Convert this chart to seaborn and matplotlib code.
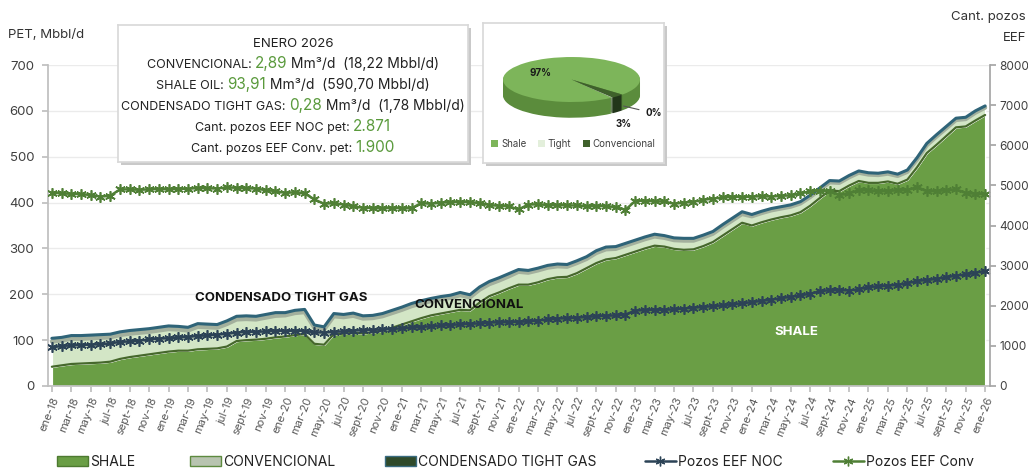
import matplotlib
matplotlib.use("Agg")
import matplotlib.pyplot as plt
import seaborn as sns
import pandas as pd
from matplotlib.patches import Patch
from matplotlib.lines import Line2D

W, H = 1028, 472

MESES = ["ene", "feb", "mar", "abr", "may", "jun", "jul", "ago", "sept", "oct", "nov", "dic"]
periodos = [f"{m}-{a}" for a in range(18, 27) for m in MESES][:97]

# produccion de petroleo, Mbbl/d
shale = [42, 45, 48, 49, 50, 51, 53, 59, 63, 66, 69, 72,
         75, 77, 77, 80, 81, 82, 86, 98, 100, 101, 103, 106,
         108, 111, 113, 92, 90, 113, 114, 116, 115, 117, 121, 127,
         134, 141, 148, 154, 158, 162, 166, 165, 182, 196, 204, 213,
         221, 221, 226, 233, 237, 238, 246, 257, 268, 276, 279, 286,
         293, 300, 306, 304, 299, 297, 298, 305, 314, 328, 342, 356,
         350, 357, 363, 368, 372, 379, 393, 410, 426, 425, 437, 447,
         443, 443, 446, 441, 450, 477, 508, 526, 545, 564, 566, 579,
         591]
convencional = [57, 56, 57, 56, 56, 56, 55, 54, 53, 52, 51, 51,
                51, 48, 46, 51, 49, 47, 51, 49, 48, 46, 48, 49,
                48, 50, 50, 37, 35, 41, 38, 39, 34, 33, 33, 34,
                34, 35, 34, 33, 33, 32, 34, 30, 30, 28, 28, 28,
                30, 28, 28, 27, 26, 24, 24, 22, 24, 24, 22, 22,
                22, 22, 22, 21, 21, 22, 21, 21, 20, 21, 21, 21,
                22, 22, 22, 21, 21, 21, 21, 20, 20, 20, 20, 20,
                20, 19, 19, 19, 19, 19, 19, 20, 19, 18, 18, 19,
                18]
tight = [5, 5, 5, 5, 5, 5, 5, 5, 5, 5, 5, 5,
         5, 5, 5, 5, 5, 5, 5, 5, 5, 5, 5, 5,
         4, 4, 4, 4, 4, 4, 4, 4, 4, 4, 4, 4,
         4, 4, 4, 4, 4, 4, 4, 4, 4, 4, 4, 4,
         3, 3, 3, 3, 3, 3, 3, 3, 3, 3, 3, 3,
         3, 3, 3, 3, 3, 3, 3, 3, 3, 3, 3, 3,
         2, 2, 2, 2, 2, 2, 2, 2, 2, 2, 2, 2,
         2, 2, 2, 2, 2, 2, 2, 2, 2, 2, 2, 2,
         1.78]

# cantidad de pozos (eje derecho)
pozos_noc = [960, 1000, 1010, 1020, 1030, 1040, 1060, 1100, 1110, 1130, 1160, 1180,
             1190, 1210, 1220, 1250, 1260, 1280, 1300, 1330, 1350, 1350, 1360, 1380,
             1370, 1380, 1370, 1340, 1330, 1350, 1360, 1380, 1390, 1400, 1410, 1420,
             1440, 1460, 1470, 1490, 1510, 1520, 1540, 1550, 1560, 1580, 1590, 1590,
             1600, 1610, 1630, 1660, 1680, 1690, 1700, 1720, 1740, 1750, 1760, 1780,
             1880, 1890, 1900, 1900, 1910, 1930, 1950, 1970, 1990, 2010, 2040, 2060,
             2090, 2120, 2150, 2190, 2220, 2260, 2300, 2360, 2390, 2390, 2380, 2410,
             2470, 2480, 2500, 2520, 2560, 2620, 2640, 2670, 2710, 2750, 2780, 2820,
             2871]
pozos_conv = [4820, 4800, 4790, 4780, 4760, 4720, 4740, 4900, 4900, 4890, 4900, 4910,
              4900, 4920, 4910, 4940, 4930, 4920, 4950, 4940, 4930, 4920, 4880, 4860,
              4810, 4830, 4800, 4650, 4540, 4560, 4520, 4480, 4440, 4440, 4430, 4440,
              4430, 4430, 4560, 4540, 4570, 4580, 4590, 4580, 4560, 4510, 4490, 4480,
              4400, 4520, 4530, 4510, 4510, 4500, 4500, 4480, 4490, 4480, 4460, 4390,
              4610, 4620, 4600, 4600, 4540, 4570, 4590, 4640, 4670, 4700, 4720, 4710,
              4720, 4730, 4720, 4740, 4750, 4800, 4850, 4870, 4860, 4760, 4800, 4880,
              4880, 4850, 4860, 4880, 4880, 4960, 4850, 4860, 4880, 4900, 4810, 4790,
              4780]

# torta enero 2026
torta_labels = ["Shale", "Tight", "Convencional"]
torta_valores = [97.0, 0.3, 3.0]

C_SHALE = "#6a9e45"
C_SHALE_EDGE = "#46682c"
C_CONV = "#d3e6c6"
C_TIGHT = "#2f6478"
C_NOC = "#2c4356"
C_POZ_CONV = "#4f7f35"
C_GREEN_TXT = "#5a9a3c"

sns.set_theme(style="white")
plt.rcParams["font.family"] = ["Inter", "DejaVu Sans"]

df = pd.DataFrame({"i": range(len(periodos)), "periodo": periodos,
                   "shale": shale, "conv": convencional, "tight": tight,
                   "noc": pozos_noc, "pconv": pozos_conv})

fig = plt.figure(figsize=(W / 100, H / 100), dpi=100)
ax = fig.add_axes([48 / W, 86 / H, 942 / W, 321 / H])

ax.stackplot(df["i"], df["shale"], df["conv"], df["tight"],
             colors=[C_SHALE, C_CONV, C_TIGHT], zorder=2)
tope_shale = df["shale"]
tope_conv = df["shale"] + df["conv"]
total = tope_conv + df["tight"]
ax.plot(df["i"], tope_shale, color=C_SHALE_EDGE, lw=1.6, zorder=3)
ax.plot(df["i"], tope_conv - 2, color="#a3b09d", lw=3, zorder=3)
ax.plot(df["i"], total, color=C_TIGHT, lw=2.2, zorder=4)

ax.set_xlim(-0.4, 96.5)
ax.set_ylim(0, 700)
ax.set_yticks(range(0, 701, 100))
ax.yaxis.grid(True, color="#ebebeb", lw=1)
ax.set_axisbelow(True)
ax.set_xticks(range(0, 97, 2))
ax.set_xticklabels(periodos[::2], rotation=68, ha="right", va="top",
                   rotation_mode="anchor", fontsize=8, color="#595959")
ax.tick_params(axis="x", length=4, color="#bfbfbf", pad=3, bottom=True)
ax.tick_params(axis="y", length=4, color="#bfbfbf", labelsize=9.5,
               labelcolor="#404040", pad=6, left=True)
for s in ["top", "right"]:
    ax.spines[s].set_visible(False)
for s in ["left", "bottom"]:
    ax.spines[s].set_color("#bfbfbf")
ax.set_xlabel("")
ax.set_ylabel("")

ax.text(14.7, 192, "CONDENSADO TIGHT GAS", fontsize=9.5, fontweight="bold",
        color="#111111", va="center", ha="left", zorder=6)
ax.text(37.3, 176, "CONVENCIONAL", fontsize=9.5, fontweight="bold",
        color="#111111", va="center", ha="left", zorder=6)
ax.text(76.6, 118, "SHALE", fontsize=9.5, fontweight="bold",
        color="white", va="center", ha="center", zorder=6)

ax2 = ax.twinx()
sns.lineplot(data=df, x="i", y="noc", ax=ax2, color=C_NOC, lw=1.8,
             marker=(6, 2, 0), markersize=7.5, markeredgewidth=1.2,
             markeredgecolor=C_NOC)
sns.lineplot(data=df, x="i", y="pconv", ax=ax2, color=C_POZ_CONV, lw=1.8,
             marker=(6, 2, 0), markersize=7.5, markeredgewidth=1.2,
             markeredgecolor=C_POZ_CONV)
ax2.set_ylim(0, 8000)
ax2.set_yticks(range(0, 8001, 1000))
ax2.set_yticklabels([str(v) for v in range(0, 8001, 1000)])
ax2.set_xlabel("")
ax2.set_ylabel("")
ax2.tick_params(axis="y", length=4, color="#a6a6a6", labelsize=8.5,
                labelcolor="#404040", pad=2.5, right=True)
for s in ["top", "left", "bottom"]:
    ax2.spines[s].set_visible(False)
ax2.spines["right"].set_color("#a6a6a6")
ax2.grid(False)

fig.text(8 / W, 1 - 35 / H, "PET, Mbbl/d", fontsize=9.5, color="#333333", va="center")
fig.text(1026 / W, 1 - 17 / H, "Cant. pozos", fontsize=9.5, color="#333333",
         va="center", ha="right")
fig.text(1026 / W, 1 - 38 / H, "EEF", fontsize=9.5, color="#333333",
         va="center", ha="right")

# leyenda inferior, un item por posicion
handles = [Patch(facecolor=C_SHALE, edgecolor="#4d7a30"),
           Patch(facecolor="#b8c4b0", edgecolor="#5d8a3f"),
           Patch(facecolor="#2f4a2a", edgecolor="#3a6c80"),
           Line2D([], [], color=C_NOC, lw=1.8, marker=(6, 2, 0), ms=7),
           Line2D([], [], color=C_POZ_CONV, lw=1.8, marker=(6, 2, 0), ms=7)]
labels = ["SHALE", "CONVENCIONAL", "CONDENSADO TIGHT GAS", "Pozos EEF NOC", "Pozos EEF Conv"]
x_items = [57, 190, 385, 645, 833]
for h, l, xp in zip(handles, labels, x_items):
    fig.legend([h], [l], loc="center left", bbox_to_anchor=(xp / W, 10 / H),
               frameon=False, fontsize=10, handlelength=2.2, handleheight=0.7,
               handletextpad=0.2, borderpad=0, borderaxespad=0, labelcolor="#222222")


def caja(x0, y0, x1, y1):
    sh = fig.add_axes([(x0 + 3) / W, 1 - (y1 + 3) / H, (x1 - x0) / W, (y1 - y0) / H])
    sh.set_facecolor("#c9c9c9")
    sh.set_xticks([])
    sh.set_yticks([])
    for s in sh.spines.values():
        s.set_visible(False)
    b = fig.add_axes([x0 / W, 1 - y1 / H, (x1 - x0) / W, (y1 - y0) / H])
    b.set_facecolor("white")
    b.set_xticks([])
    b.set_yticks([])
    for s in b.spines.values():
        s.set_color("#d9d9d9")
    b.set_xlim(0, 1)
    b.set_ylim(0, 1)
    return b


bx = caja(118, 25, 468, 162)
K = "#222222"
lineas = [
    (0.839, [("ENERO 2026", K, 9.5)]),
    (0.686, [("CONVENCIONAL: ", K, 9), ("2,89", C_GREEN_TXT, 11), (" Mm³/d  (18,22 Mbbl/d)", K, 10)]),
    (0.533, [("SHALE OIL: ", K, 9), ("93,91", C_GREEN_TXT, 11), (" Mm³/d  (590,70 Mbbl/d)", K, 10)]),
    (0.380, [("CONDENSADO TIGHT GAS: ", K, 9), ("0,28", C_GREEN_TXT, 11), (" Mm³/d  (1,78 Mbbl/d)", K, 10)]),
    (0.226, [("Cant. pozos EEF NOC pet: ", K, 9), ("2.871", C_GREEN_TXT, 11)]),
    (0.073, [("Cant. pozos EEF Conv. pet: ", K, 9), ("1.900", C_GREEN_TXT, 11)]),
]
grupos = []
for y, partes in lineas:
    txt, col, fs = partes[0]
    first = bx.text(0.1, y, txt, color=col, fontsize=fs, va="baseline", ha="left")
    grupo = [first]
    for txt, col, fs in partes[1:]:
        t = bx.annotate(txt, xy=(1, 0), xycoords=grupo[-1], color=col, fontsize=fs,
                        va="bottom", ha="left")
        grupo.append(t)
    grupos.append(grupo)

fig.canvas.draw()
r = fig.canvas.get_renderer()
inv = bx.transAxes.inverted()
for grupo in grupos:
    x0 = grupo[0].get_window_extent(r).x0
    x1 = grupo[-1].get_window_extent(r).x1
    a0 = inv.transform((x0, 0))[0]
    a1 = inv.transform((x1, 0))[0]
    grupo[0].set_x(0.5 - (a1 - a0) / 2)

# torta
px = caja(483, 23, 664, 163)
pa = fig.add_axes([500 / W, 1 - 120 / H, 142 / W, 65 / H])
ang0 = -42
col_top = ["#7db55a", "#e3efdb", "#3f612b"]
col_lado = ["#5b8c3c", "#c9d8bf", "#22361a"]
prof = 0.7
n = 16
for k in range(n, 0, -1):
    d = prof * k / n
    pa.pie(torta_valores, colors=col_lado, startangle=ang0, center=(0, -d),
           wedgeprops=dict(linewidth=0))
pa.pie(torta_valores, colors=col_top, startangle=ang0, center=(0, 0),
       wedgeprops=dict(linewidth=0))
pa.set_aspect("auto")
pa.set_xlim(-1.044, 1.029)
pa.set_ylim(-1.8, 1.09)
pa.axis("off")
pa.text(-0.45, 0.3, "97%", fontsize=7, fontweight="bold", color="#1a1a1a", ha="center", va="center")
pa.annotate("0%", xy=(0.72, -1.15), xytext=(645, H - 113), textcoords="figure pixels",
            fontsize=7, fontweight="bold", color="#1a1a1a", va="center",
            arrowprops=dict(arrowstyle="-", color="#555555", lw=0.8))
pa.annotate("3%", xy=(0.72, -1.2), xytext=(616, H - 124), textcoords="figure pixels",
            fontsize=7, fontweight="bold", color="#1a1a1a", va="center")

lh = [Patch(facecolor=c, edgecolor="none") for c in col_top]
px.legend(lh, torta_labels, loc="center", bbox_to_anchor=(0.5, 0.136), ncol=3,
          frameon=False, fontsize=7, handlelength=0.7, handleheight=0.7,
          handletextpad=0.3, columnspacing=1.2, labelcolor="#404040")

fig.savefig("out.png", dpi=100)
